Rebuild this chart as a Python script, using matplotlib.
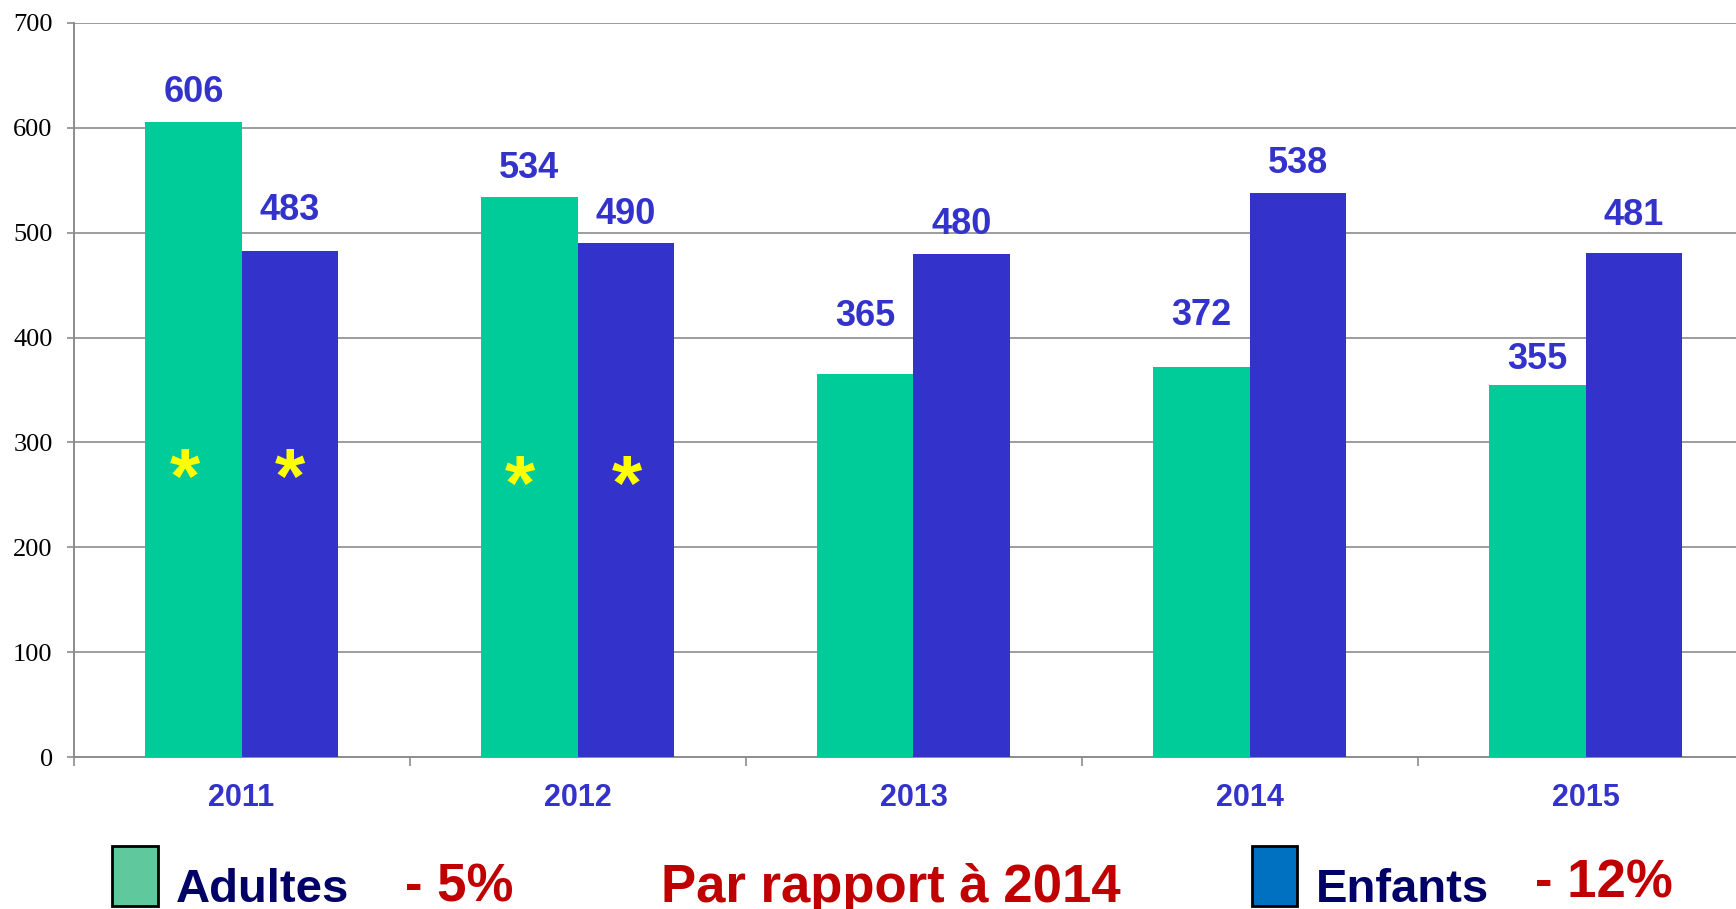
import matplotlib
matplotlib.use("Agg")
import matplotlib.pyplot as plt
from matplotlib.patches import Rectangle

# ---- data ----
years = ["2011", "2012", "2013", "2014", "2015"]
adultes = [606, 534, 365, 372, 355]
enfants = [483, 490, 480, 538, 481]
y_ticks = [0, 100, 200, 300, 400, 500, 600, 700]
legend_labels = ["Adultes", "Enfants"]
legend_changes = ["- 5%", "- 12%"]
reference_note = "Par rapport à 2014"
starred_years = ["2011", "2012"]

# ---- layout / style ----
W, H, DPI = 1736, 909, 100
green = "#00CC99"
blue = "#3333CC"
label_col = "#3333CC"
grid_col = "#8C8C8C"
navy = "#000066"
red = "#C00000"
leg_green = "#5FC89C"
leg_blue = "#0070C0"
bar_w = 0.286
# label baseline offsets above bar tops (points), hand-placed in the original
off_ad = [14, 14, 35, 30, 11.5]
off_en = [22, 13.5, 14, 14, 20]
# asterisk placements (x offset from category centre, glyph-centre y in data units)
star_pos = {"2011": [(-0.168, 285), (0.144, 285)],
            "2012": [(-0.171, 278), (0.147, 278)]}
star_size = 56

fig = plt.figure(figsize=(W / DPI, H / DPI), dpi=DPI)
ax = fig.add_axes([73.5 / W, (H - 757) / H, 1680 / W, 734 / H])

x = list(range(len(years)))
ax.bar([i - bar_w / 2 for i in x], adultes, width=bar_w, color=green, zorder=3)
ax.bar([i + bar_w / 2 for i in x], enfants, width=bar_w, color=blue, zorder=3)

ax.set_xlim(-0.5, len(years) - 0.5)
ax.set_ylim(0, 700)
ax.set_yticks(y_ticks)
ax.set_yticklabels([str(v) for v in y_ticks], family="Liberation Serif",
                   fontsize=19, color="black")
ax.tick_params(axis="y", length=5, width=1.2, color=grid_col, pad=10)
ax.yaxis.grid(True, color=grid_col, linewidth=1.2, zorder=0)
ax.set_axisbelow(True)

ax.set_xticks([i - 0.5 for i in x])
ax.set_xticklabels([])
ax.tick_params(axis="x", which="major", length=6.5, width=1.2, color=grid_col, direction="out")
ax.set_xticks(x, minor=True)
ax.set_xticklabels(years, minor=True, family="Liberation Sans", fontweight="bold",
                   fontsize=22, color=label_col)
ax.tick_params(axis="x", which="minor", length=0, pad=19)

for s in ["top", "right"]:
    ax.spines[s].set_visible(False)
for s in ["left", "bottom"]:
    ax.spines[s].set_color(grid_col)
    ax.spines[s].set_linewidth(1.4)

for i, v in enumerate(adultes):
    ax.annotate(str(v), (i - bar_w / 2, v), xytext=(0, off_ad[i]), textcoords="offset points",
                ha="center", va="baseline", family="Liberation Sans", fontweight="bold",
                fontsize=26, color=label_col, zorder=5)
for i, v in enumerate(enfants):
    ax.annotate(str(v), (i + bar_w / 2, v), xytext=(0, off_en[i]), textcoords="offset points",
                ha="center", va="baseline", family="Liberation Sans", fontweight="bold",
                fontsize=26, color=label_col, zorder=5)

for yr in starred_years:
    ci = years.index(yr)
    for dx, yy in star_pos[yr]:
        ax.annotate("*", (ci + dx, yy), xytext=(0, -0.57 * star_size), textcoords="offset points",
                    ha="center", va="baseline", family="Liberation Sans",
                    fontweight="bold", fontsize=star_size, color="#FFFF00", zorder=6)

# bottom legend
def fx(px):
    return px / W

def fy(py):
    return 1 - py / H

fig.patches.append(Rectangle((fx(112), fy(906)), fx(158) - fx(112), fy(846) - fy(906),
                             transform=fig.transFigure, facecolor=leg_green,
                             edgecolor="black", linewidth=2))
fig.patches.append(Rectangle((fx(1252), fy(906)), fx(1297) - fx(1252), fy(846) - fy(906),
                             transform=fig.transFigure, facecolor=leg_blue,
                             edgecolor="black", linewidth=2))
tk = dict(family="Liberation Sans", fontweight="bold", va="baseline", ha="left")
fig.text(fx(176), fy(902), legend_labels[0], fontsize=34, color=navy, **tk)
fig.text(fx(405), fy(902), legend_changes[0], fontsize=38, color=red, **tk)
fig.text(fx(661), fy(902), reference_note, fontsize=38, color=red, **tk)
fig.text(fx(1316), fy(902), legend_labels[1], fontsize=34, color=navy, **tk)
fig.text(fx(1535), fy(897), legend_changes[1], fontsize=38, color=red, **tk)

fig.savefig("out.png", dpi=DPI)
